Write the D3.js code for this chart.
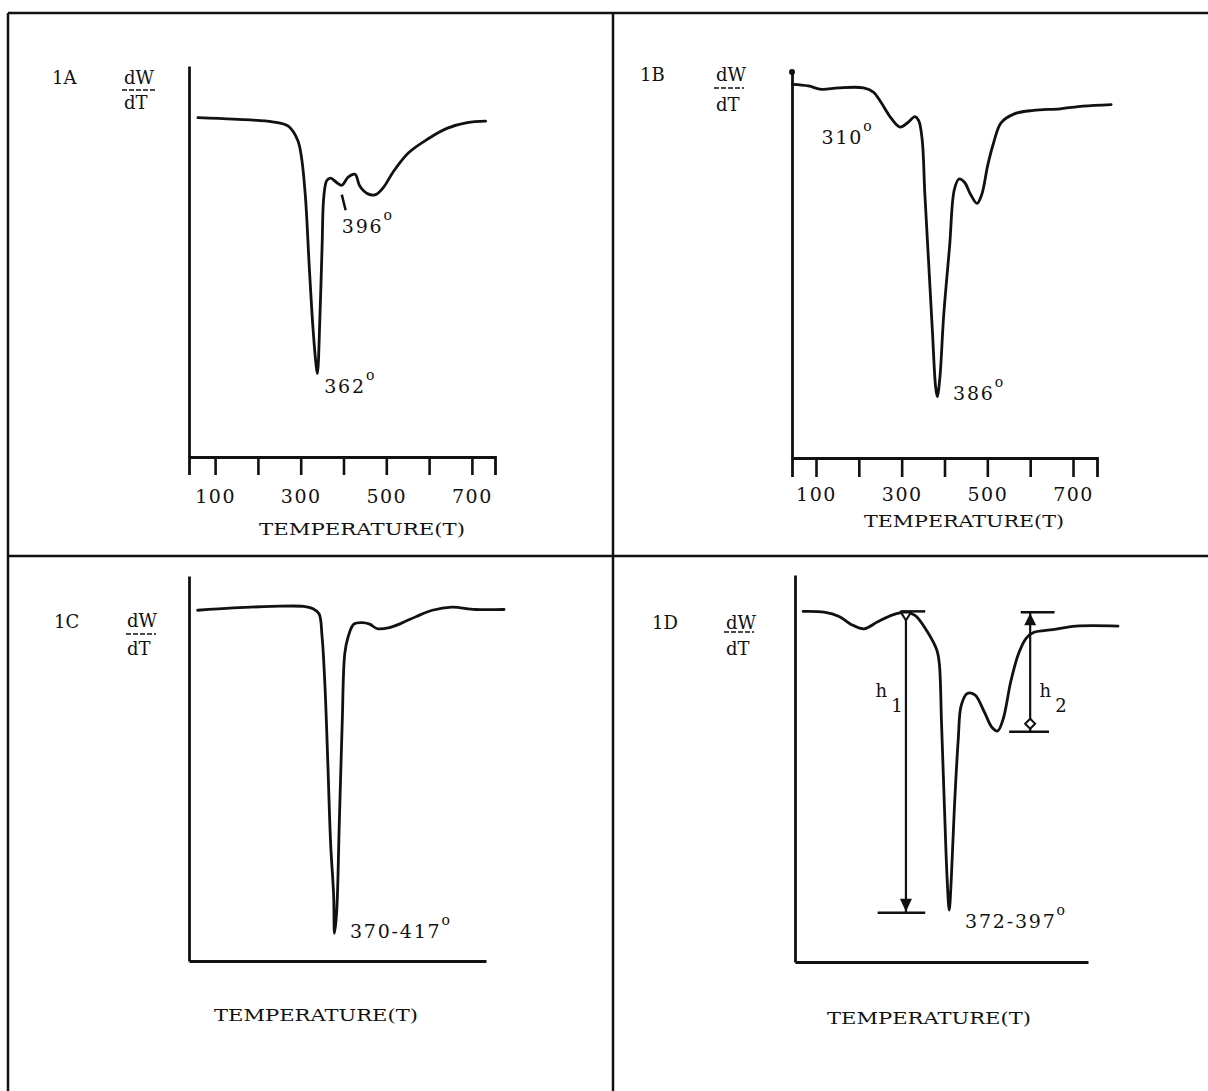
<!DOCTYPE html>
<html>
<head>
<meta charset="utf-8">
<script src="https://cdn.jsdelivr.net/npm/d3@7"></script>
<style>
  body { margin: 0; background: #fff; }
  text { font-family: "DejaVu Serif", serif; fill: #111; }
</style>
</head>
<body>
<svg id="fig" width="1208" height="1091"></svg>
<script>
// DTG curves: temperature (T) and dW/dT (0 = x axis, 100 = top of y axis)
var tempA = [60, 143, 234, 271, 293, 302, 311, 320, 329, 336, 339, 345, 350, 354, 361, 370, 384, 396, 411, 427, 438, 457, 475, 493, 516, 552, 598, 643, 689, 732];
var rateA = [86.8, 86.4, 85.7, 84.6, 81, 76.5, 66.6, 48.7, 32.5, 23.5, 21.3, 36.1, 54, 66.6, 70.7, 71.3, 70.2, 69.5, 71.6, 72.3, 69.3, 67.3, 67.1, 68.9, 72.9, 77.8, 81.4, 84.1, 85.5, 85.9];

var tempB = [45, 82, 113, 153, 211, 234, 251, 274, 296, 314, 331, 340, 348, 354, 363, 372, 379, 383, 389, 398, 412, 423, 434, 447, 461, 476, 487, 501, 514, 532, 563, 608, 670, 723, 789];
var rateB = [96.3, 95.9, 95, 95.4, 95.4, 94.3, 91.8, 87.8, 85.3, 86.4, 88, 86.9, 81.9, 68.3, 50.3, 32.2, 18.6, 15.8, 20.4, 36.6, 54.7, 69.2, 71.9, 71, 67.9, 65.6, 67.9, 75.5, 81, 86.4, 88.7, 89.6, 90, 90.7, 91.1];

var tempC = [60, 143, 234, 307, 329, 343, 350, 357, 363, 370, 377, 379, 384, 390, 397, 403, 411, 424, 443, 461, 479, 507, 534, 570, 607, 652, 707, 774];
var rateC = [91.1, 91.7, 92.1, 92.1, 91.5, 90.2, 84.3, 70.9, 52.9, 30.5, 17.1, 7.2, 12.6, 35, 61.9, 79.9, 84.3, 87.5, 87.9, 87.5, 86.3, 86.6, 87.7, 89.5, 91.1, 91.9, 91.3, 91.3];

var tempD = [69, 118, 153, 180, 211, 243, 278, 309, 331, 358, 381, 387, 392, 399, 405, 410, 415, 422, 431, 438, 452, 470, 492, 510, 523, 536, 554, 572, 590, 608, 652, 706, 804];
var rateD = [90.6, 90.4, 89.3, 87.3, 86.1, 87.9, 89.7, 90.4, 89.5, 85.5, 80.6, 77, 61.9, 39.6, 21.8, 13.4, 21.8, 39.6, 57.4, 66.3, 69.4, 69, 64.6, 60.6, 59.7, 62.8, 72.6, 79.7, 83.7, 85.2, 85.9, 86.8, 86.8];

// x axis ticks (only 1A and 1B have them)
var tickTemps = [100, 200, 300, 400, 500, 600, 700];
var tickLabels = ["100", "", "300", "", "500", "", "700"];

// peak labels, anchored in data units
var peaksA = [{ text: "362", t: 355, v: 16.4 }, { text: "396", t: 396, v: 57.2 }];
var peaksB = [{ text: "310", t: 113, v: 80.9 }, { text: "386", t: 420, v: 14.9 }];
var peaksC = [{ text: "370-417", t: 415, v: 5.9 }];
var peaksD = [{ text: "372-397", t: 447, v: 8.9 }];

// h1 / h2 height markers in 1D
var heightsD = [
    { name: "1", t: 309, top: 90.6, bottom: 12.7, topBar: [296, 354], bottomBar: [243, 354], labelT: 238, labelV: 68.6 },
    { name: "2", t: 599, top: 90.4, bottom: 59.5, topBar: [577, 656], bottomBar: [550, 643], labelT: 621, labelV: 68.6 }
];

var svg = d3.select("#fig");

// frame
var frame = svg.append("g").attr("stroke", "#111").attr("stroke-width", 2.5);
frame.append("line").attr("x1", 8).attr("y1", 13).attr("x2", 1208).attr("y2", 13);
frame.append("line").attr("x1", 8).attr("y1", 13).attr("x2", 8).attr("y2", 1091);
frame.append("line").attr("x1", 613).attr("y1", 13).attr("x2", 613).attr("y2", 1091);
frame.append("line").attr("x1", 8).attr("y1", 556).attr("x2", 1208).attr("y2", 556);

var panels = [
    { id: "1A", temp: tempA, rate: rateA, peaks: peaksA, ticks: true,
      xDomain: [39, 754], xRange: [189, 495], yRange: [457, 66],
      idX: 52, idY: 84, fracX: 124, fracY: 84, dtY: 109, fracLine: [122, 155, 90],
      tickSize: 18, tickPad: 15, titleX: 259, titleY: 535, titleW: 206 },
    { id: "1B", temp: tempB, rate: rateB, peaks: peaksB, ticks: true, axisDot: true,
      xDomain: [44, 756], xRange: [792, 1097], yRange: [458, 70],
      idX: 640, idY: 81, fracX: 716, fracY: 81, dtY: 111, fracLine: [714, 744, 88],
      tickSize: 19, tickPad: 11, titleX: 864, titleY: 527, titleW: 200 },
    { id: "1C", temp: tempC, rate: rateC, peaks: peaksC, ticks: false,
      xDomain: [40, 732], xRange: [189, 486], yRange: [961, 576],
      idX: 54, idY: 628, fracX: 127, fracY: 627, dtY: 655, fracLine: [126, 156, 634],
      titleX: 214, titleY: 1021, titleW: 204 },
    { id: "1D", temp: tempD, rate: rateD, peaks: peaksD, ticks: false, heights: heightsD,
      xDomain: [50, 734], xRange: [795, 1088], yRange: [962, 575],
      idX: 652, idY: 629, fracX: 726, fracY: 629, dtY: 655, fracLine: [724, 754, 632],
      titleX: 827, titleY: 1024, titleW: 204 }
];

panels.forEach(drawPanel);

function drawPanel(p) {
    var x = d3.scaleLinear().domain(p.xDomain).range(p.xRange);
    var y = d3.scaleLinear().domain([0, 100]).range(p.yRange);
    var g = svg.append("g");

    // y axis: bare line
    g.append("g")
        .attr("transform", "translate(" + p.xRange[0] + ",0)")
        .call(d3.axisLeft(y).tickValues([]).tickSizeOuter(0))
        .call(s => s.select(".domain").attr("stroke", "#111").attr("stroke-width", 2.8));

    if (p.axisDot) {
        g.append("circle").attr("cx", p.xRange[0]).attr("cy", y(100) + 2).attr("r", 3).attr("fill", "#111");
    }

    // x axis
    var xAxis = d3.axisBottom(x).tickSizeOuter(0);
    if (p.ticks) {
        xAxis.tickValues(tickTemps).tickSize(p.tickSize).tickPadding(p.tickPad)
            .tickFormat((d, i) => tickLabels[i]);
    } else {
        xAxis.tickValues([]);
    }
    var ax = g.append("g")
        .attr("transform", "translate(0," + y(0) + ")")
        .call(xAxis);
    ax.select(".domain").attr("stroke", "#111").attr("stroke-width", 2.8);
    ax.selectAll(".tick line").attr("stroke", "#111").attr("stroke-width", 2.6);
    ax.selectAll(".tick text")
        .attr("font-family", "DejaVu Serif").attr("font-size", 19)
        .attr("letter-spacing", 1.5).attr("fill", "#111");

    // axis title
    g.append("text")
        .attr("x", p.titleX).attr("y", p.titleY)
        .attr("font-size", 17)
        .attr("textLength", p.titleW).attr("lengthAdjust", "spacingAndGlyphs")
        .text("TEMPERATURE(T)");

    // panel id and dW/dT
    g.append("text").attr("x", p.idX).attr("y", p.idY).attr("font-size", 18).text(p.id);
    g.append("text").attr("x", p.fracX).attr("y", p.fracY).attr("font-size", 18).text("dW");
    g.append("line")
        .attr("x1", p.fracLine[0]).attr("x2", p.fracLine[1])
        .attr("y1", p.fracLine[2]).attr("y2", p.fracLine[2])
        .attr("stroke", "#111").attr("stroke-width", 1.3).attr("stroke-dasharray", "5,2");
    g.append("text").attr("x", p.fracX).attr("y", p.dtY).attr("font-size", 18).text("dT");

    // curve
    var pts = p.temp.map((t, i) => [t, p.rate[i]]);
    var line = d3.line()
        .x(d => x(d[0]))
        .y(d => y(d[1]))
        .curve(d3.curveCatmullRom.alpha(0.5));
    g.append("path")
        .attr("d", line(pts))
        .attr("fill", "none")
        .attr("stroke", "#111")
        .attr("stroke-width", 2.8)
        .attr("stroke-linejoin", "round")
        .attr("stroke-linecap", "round");

    // peak labels
    p.peaks.forEach(function (pk) {
        var t = g.append("text")
            .attr("x", x(pk.t)).attr("y", y(pk.v))
            .attr("font-size", 19).attr("letter-spacing", 1.8);
        t.append("tspan").text(pk.text);
        t.append("tspan").attr("font-size", 14).attr("dy", -13).attr("dx", 0).text("o");
    });

    // leader tick for 396 in 1A
    if (p.id == "1A") {
        g.append("line")
            .attr("x1", x(396)).attr("y1", y(67.1))
            .attr("x2", x(405)).attr("y2", y(63.1))
            .attr("stroke", "#111").attr("stroke-width", 2.5);
    }

    if (p.heights) drawHeights(g, p.heights, x, y);
}

function drawHeights(g, hs, x, y) {
    hs.forEach(function (h) {
        var cx = x(h.t);
        g.append("line").attr("x1", x(h.topBar[0])).attr("x2", x(h.topBar[1]))
            .attr("y1", y(h.top)).attr("y2", y(h.top)).attr("stroke", "#111").attr("stroke-width", 2.5);
        g.append("line").attr("x1", x(h.bottomBar[0])).attr("x2", x(h.bottomBar[1]))
            .attr("y1", y(h.bottom)).attr("y2", y(h.bottom)).attr("stroke", "#111").attr("stroke-width", 2.5);
        g.append("line").attr("x1", cx).attr("x2", cx)
            .attr("y1", y(h.top)).attr("y2", y(h.bottom)).attr("stroke", "#111").attr("stroke-width", 2.2);

        var yt = y(h.top), yb = y(h.bottom);
        if (h.name == "1") {
            // small open head at top, filled arrow down at bottom
            g.append("path")
                .attr("d", "M" + (cx - 5) + "," + (yt + 1) + "L" + (cx + 5) + "," + (yt + 1) + "L" + cx + "," + (yt + 9) + "Z")
                .attr("fill", "#fff").attr("stroke", "#111").attr("stroke-width", 2);
            g.append("path")
                .attr("d", "M" + (cx - 6) + "," + (yb - 14) + "L" + (cx + 6) + "," + (yb - 14) + "L" + cx + "," + (yb - 1) + "Z")
                .attr("fill", "#111");
        } else {
            // filled arrow up at top, small diamond at bottom
            g.append("path")
                .attr("d", "M" + (cx - 6) + "," + (yt + 13) + "L" + (cx + 6) + "," + (yt + 13) + "L" + cx + "," + (yt + 1) + "Z")
                .attr("fill", "#111");
            g.append("path")
                .attr("d", "M" + cx + "," + (yb - 13) + "L" + (cx + 5) + "," + (yb - 8) + "L" + cx + "," + (yb - 3) + "L" + (cx - 5) + "," + (yb - 8) + "Z")
                .attr("fill", "#fff").attr("stroke", "#111").attr("stroke-width", 2);
        }

        var lbl = g.append("text").attr("x", x(h.labelT)).attr("y", y(h.labelV)).attr("font-size", 18);
        lbl.append("tspan").text("h");
        lbl.append("tspan").attr("dx", 4).attr("dy", 15).text(h.name);
    });
}
</script>
</body>
</html>
